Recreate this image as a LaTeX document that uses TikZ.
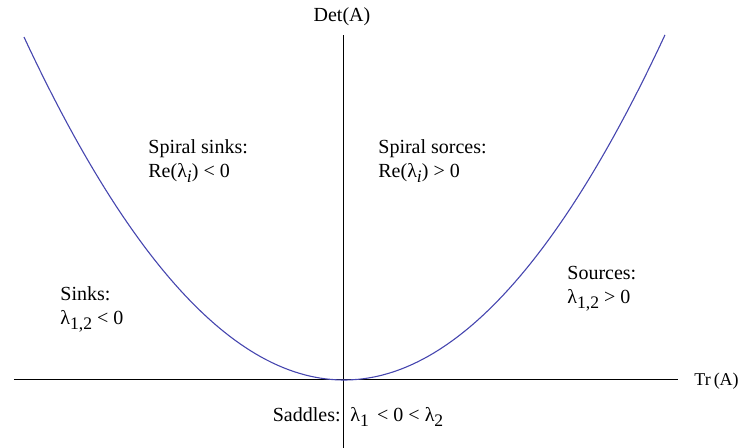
\documentclass[tikz,border=0pt]{standalone}
\usepackage{fontspec}
\setmainfont{Liberation Serif}
\definecolor{curva}{RGB}{70,70,175}
\newcommand{\lam}{λ}
\newcommand{\sbs}[1]{\raisebox{-0.5ex}{\fontsize{8.8}{9}\selectfont #1}}
\begin{document}
\begin{tikzpicture}[x=0.5pt, y=0.5pt,
    region/.style={anchor=base west, align=left, inner sep=0pt,
      font=\fontsize{10}{12}\selectfont},
    axislabel/.style={inner sep=0pt, font=\fontsize{10}{12}\selectfont}]
  \useasboundingbox (-344,-68) rectangle (395,380);
  % Ejes
  \coordinate (xmin) at (-330,0);
  \coordinate (xmax) at (334,0);
  \coordinate (ymin) at (0,-68);
  \coordinate (ymax) at (0,345);
  \draw[line width=0.5pt] (xmin) -- (xmax);
  \draw[line width=0.5pt] (ymin) -- (ymax);

  % Parabola det = tr^2/4
  \draw[curva, line width=0.55pt, domain=-320:321, samples=120]
    plot (\x, {(\x/17.28)*(\x/17.28)});

  % Etiquetas de ejes
  \node[axislabel, anchor=base] (det) at (-2,358) {Det(A)};
  \node[axislabel, anchor=base west, font=\fontsize{9}{11}\selectfont]
    (tr) at (350,-6) {Tr\,(A)};

  % Regiones (base = ultima linea)
  \node[region] (spsink) at (-196,202)
    {Spiral sinks:\\Re(\lam\sbs{\textit{i}}) {<} 0};
  \node[region] (spsource) at (34,202)
    {Spiral sorces:\\Re(\lam\sbs{\textit{i}}) {>} 0};
  \node[region] (sink) at (-284,55)
    {Sinks:\\\lam\sbs{1,2} {<} 0};
  \node[region] (source) at (223,76)
    {Sources:\\\lam\sbs{1,2} {>} 0};
  \node[region, anchor=base east] (saddle) at (-3,-42) {Saddles:};
  \node[region] (saddleval) at (6,-42)
    {\lam\sbs{1} \,{<} 0 {<} \lam\sbs{2}};
\end{tikzpicture}
\end{document}
